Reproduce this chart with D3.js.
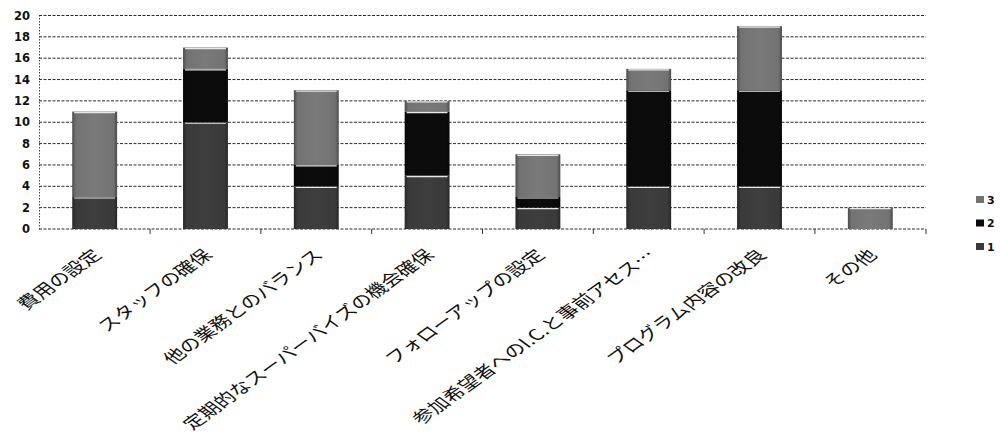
<!DOCTYPE html>
<html>
<head>
<meta charset="utf-8">
<script src="https://cdn.jsdelivr.net/npm/d3@7"></script>
<style>
  html, body { margin: 0; padding: 0; background: #fff; }
  svg { display: block; }
</style>
</head>
<body>
<svg id="chart" width="1000" height="439"></svg>
<script>
// Categories and counts per rating (1, 2, 3), stacked from the bottom.
const categories = [
  "費用の設定",
  "スタッフの確保",
  "他の業務とのバランス",
  "定期的なスーパーバイズの機会確保",
  "フォローアップの設定",
  "参加希望者へのI.C.と事前アセス…",
  "プログラム内容の改良",
  "その他"
];
const series1 = [3, 10, 4, 5, 2, 4, 4, 0];
const series2 = [0, 5, 2, 6, 1, 9, 9, 0];
const series3 = [8, 2, 7, 1, 4, 2, 6, 2];
const seriesNames = ["1", "2", "3"];
const yTicks = [0, 2, 4, 6, 8, 10, 12, 14, 16, 18, 20];

const colors = { "1": "#3a3a3a", "2": "#0b0b0b", "3": "#727272" };

const rows = categories.map((c, i) => ({
  cat: c, "1": series1[i], "2": series2[i], "3": series3[i]
}));

const svg = d3.select("#chart");
const x = d3.scaleBand().domain(categories).range([39, 926]).paddingInner(0.595).paddingOuter(0.3);
const y = d3.scaleLinear().domain([0, 20]).range([229, 15.5]);

// Bar shading: darker edges, lighter centre
const defs = svg.append("defs");
seriesNames.forEach(k => {
  const base = d3.color(colors[k]);
  const g = defs.append("linearGradient").attr("id", "grad" + k)
    .attr("x1", "0").attr("x2", "1").attr("y1", "0").attr("y2", "0");
  g.append("stop").attr("offset", "0").attr("stop-color", base.darker(1.2));
  g.append("stop").attr("offset", "0.08").attr("stop-color", base);
  g.append("stop").attr("offset", "0.5").attr("stop-color", base.brighter(0.2));
  g.append("stop").attr("offset", "0.92").attr("stop-color", base);
  g.append("stop").attr("offset", "1").attr("stop-color", base.darker(1.2));
});

// Horizontal grid
svg.append("g").selectAll("line").data(yTicks).join("line")
  .attr("x1", 39).attr("x2", 926)
  .attr("y1", d => y(d)).attr("y2", d => y(d))
  .attr("stroke", "#2a2a2a").attr("stroke-width", 1)
  .attr("stroke-dasharray", "3,1.5");

// Y axis
const yAxis = svg.append("g").attr("transform", "translate(39,0)")
  .call(d3.axisLeft(y).tickValues(yTicks).tickSize(0).tickPadding(9));
yAxis.select(".domain").attr("stroke", "#444").attr("stroke-dasharray", "1.5,1.5");
yAxis.selectAll("text")
  .attr("font-family", "DejaVu Sans, sans-serif")
  .attr("font-weight", "bold").attr("font-size", 11.5).attr("fill", "#111");

// Category separators under the baseline
const bounds = categories.slice(1).map(c => x(c) - x.step() * x.paddingInner() / 2);
svg.append("g").selectAll("line").data([...bounds, 926]).join("line")
  .attr("x1", d => d).attr("x2", d => d)
  .attr("y1", 229).attr("y2", 234)
  .attr("stroke", "#333").attr("stroke-width", 1);

// Stacked bars
const stack = d3.stack().keys(seriesNames)(rows);
const layers = svg.append("g").selectAll("g").data(stack).join("g")
  .attr("fill", d => "url(#grad" + d.key + ")");
layers.selectAll("rect").data(d => d.filter(p => p[1] > p[0])).join("rect")
  .attr("x", d => x(d.data.cat))
  .attr("width", x.bandwidth())
  .attr("y", d => y(d[1]))
  .attr("height", d => y(d[0]) - y(d[1]));
// thin highlight at the top of each segment
layers.selectAll("line").data(d => d.filter(p => p[1] > p[0])).join("line")
  .attr("x1", d => x(d.data.cat) + 2)
  .attr("x2", d => x(d.data.cat) + x.bandwidth() - 2)
  .attr("y1", d => y(d[1]) + 1).attr("y2", d => y(d[1]) + 1)
  .attr("stroke", "#e8e8e8").attr("stroke-width", 1.2);

// Rotated category labels (slanted text, slightly widened)
svg.append("g").selectAll("text").data(categories).join("text")
  .attr("transform", d => `translate(${x(d) + x.bandwidth() / 2 + 8},${256}) scale(1.39,1) rotate(-45)`)
  .attr("text-anchor", "end")
  .attr("font-family", "Noto Sans CJK JP, sans-serif")
  .attr("font-size", 15.5)
  .attr("fill", "#111")
  .text(d => d);

// Legend (reverse order: 3 on top)
const legend = svg.append("g").selectAll("g").data(seriesNames.slice().reverse()).join("g")
  .attr("transform", (d, i) => `translate(976,${200 + i * 23.5})`);
legend.append("rect").attr("x", 0).attr("y", -4).attr("width", 8).attr("height", 7)
  .attr("fill", d => colors[d]);
legend.append("text").attr("x", 11).attr("y", 0).attr("dy", "0.35em")
  .attr("font-family", "DejaVu Sans, sans-serif").attr("font-weight", "bold")
  .attr("font-size", 11).attr("fill", "#111").text(d => d);
</script>
</body>
</html>
